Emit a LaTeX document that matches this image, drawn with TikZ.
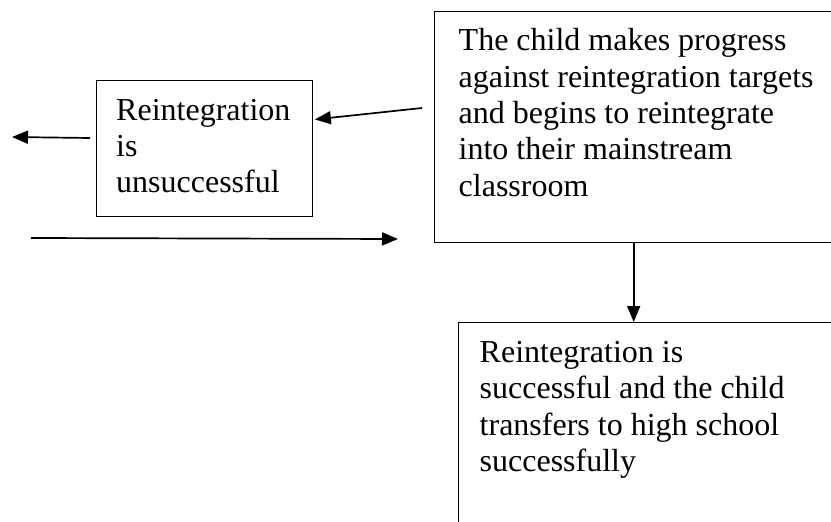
\documentclass[tikz,border=0pt]{standalone}
\usepackage{fontspec}
\setmainfont{Liberation Serif}
\usetikzlibrary{arrows.meta,calc}
\begin{document}
\begin{tikzpicture}[x=1pt,y=-1pt,
  box/.style={draw, line width=1.4pt, rectangle, inner sep=0pt, anchor=north west},
  txt/.style={inner sep=0pt, anchor=base west, align=left, font=\fontsize{32}{36.3}\selectfont},
  arr/.style={line width=1.7pt, -{Triangle[length=16pt,width=13pt]}}]
\useasboundingbox (0,0) rectangle (831,522);
\clip (0,0) rectangle (831,522);
% boxes
\node[box, minimum width=216pt, minimum height=136pt] (fail) at (96,80) {};
\node[box, minimum width=398pt, minimum height=231pt] (prog) at (434,11) {};
\node[box, minimum width=380pt, minimum height=230pt] (succ) at (458,322) {};
% texts (anchored at the baseline of their last line)
\node[txt] (failt) at (116,192.7) {Reintegration\\is\\unsuccessful};
\node[txt] (progt) at (458.5,196) {The child makes progress\\against reintegration targets\\and begins to reintegrate\\into their mainstream\\classroom};
\node[txt] (succt) at (479.5,471.5) {Reintegration is\\successful and the child\\transfers to high school\\successfully};
% connectors
\coordinate (a1) at (422,108);
\draw[arr] (a1) -- ($(fail.north east)!0.287!(fail.south east)+(1.5,0)$);
\coordinate (a2s) at (90,138);
\coordinate (a2e) at (12,137);
\draw[arr] (a2s) -- (a2e);
\coordinate (a3s) at (31,238);
\coordinate (a3e) at (398,239);
\draw[arr] (a3s) -- (a3e);
\draw[arr] (prog.south) -- (prog.south |- succ.north);
\end{tikzpicture}
\end{document}
